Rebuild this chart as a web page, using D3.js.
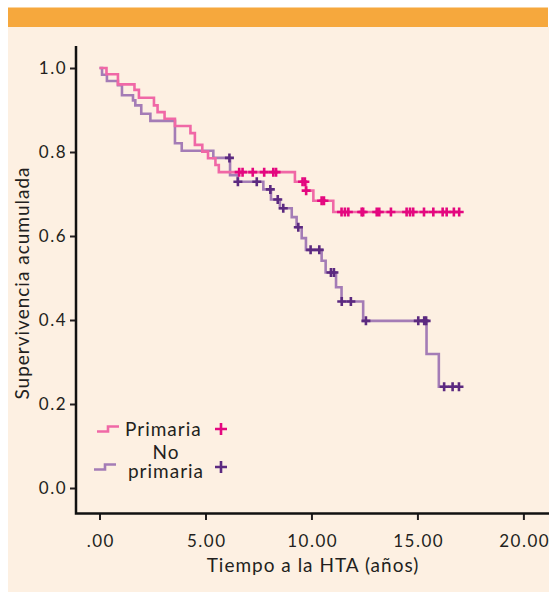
<!DOCTYPE html>
<html>
<head>
<meta charset="utf-8">
<script src="https://cdn.jsdelivr.net/npm/d3@7"></script>
<style>
  body { margin: 0; background: #fff; }
  text { font-family: Lato, "Open Sans", sans-serif; fill: #231f20; }
</style>
</head>
<body>
<div id="visContainer"></div>
<script>
// step times (years) and cumulative survival
const primariaTimes = [0, 0.33, 0.87, 1.65, 1.86, 2.57, 2.74, 3.07, 3.56, 4.29, 4.50, 4.85, 5.12, 5.47, 5.63, 9.22, 9.74, 10.09, 11.03]
const primariaSurv  = [1.0, 0.985, 0.961, 0.948, 0.929, 0.911, 0.895, 0.879, 0.862, 0.845, 0.817, 0.801, 0.785, 0.769, 0.752, 0.729, 0.708, 0.684, 0.657]
const primariaEnd = 16.97
const primariaCensor = [6.59, 6.75, 7.23, 7.77, 8.20, 8.33, 9.58, 9.69, 9.75, 10.48, 10.59, 11.42, 11.58, 11.74, 12.37, 12.44, 13.08, 13.20, 13.75, 14.49, 14.65, 14.80, 15.31, 15.75, 16.19, 16.38, 16.72, 16.97]

const noPrimariaTimes = [0, 0.12, 0.35, 0.87, 1.06, 1.58, 1.69, 1.97, 2.40, 3.56, 3.88, 5.37, 6.16, 6.52, 7.73, 8.09, 8.51, 9.07, 9.30, 9.54, 9.74, 10.48, 10.67, 11.16, 11.42, 12.44, 15.43, 16.01]
const noPrimariaSurv  = [1.0, 0.984, 0.969, 0.959, 0.935, 0.923, 0.911, 0.891, 0.874, 0.821, 0.803, 0.786, 0.745, 0.729, 0.711, 0.687, 0.666, 0.645, 0.621, 0.595, 0.567, 0.541, 0.513, 0.478, 0.444, 0.398, 0.319, 0.241]
const noPrimariaEnd = 16.96
const noPrimariaCensor = [6.13, 6.53, 7.42, 8.06, 8.41, 8.67, 9.38, 9.96, 10.37, 10.92, 11.06, 11.43, 11.86, 12.57, 15.04, 15.32, 15.41, 16.26, 16.66, 16.96]

const xTicks = [0, 5, 10, 15, 20]
const yTicks = [0, 0.2, 0.4, 0.6, 0.8, 1.0]
const legendLabels = [["Primaria"], ["No", "primaria"]]

function survAt(times, surv, t) {
    let v = surv[0]
    for (let i = 0; i < times.length; i++) { if (times[i] <= t) v = surv[i]; }
    return v
}

function renderVisualisation() {
    const width = 549;
    const height = 597;

    const svg = d3.select('#visContainer').append("svg")
        .attr("width", width)
        .attr("height", height)
        .style("display", "block")

    // panel background + orange header
    svg.append("rect").attr("x", 8).attr("y", 27).attr("width", width - 8).attr("height", 565).attr("fill", "#fdf0e2")
    svg.append("rect").attr("x", 8).attr("y", 7.5).attr("width", width - 9).attr("height", 19.5).attr("fill", "#f6a83d")

    const x = d3.scaleLinear().domain([0, 20]).range([99.5, 523.4])
    const y = d3.scaleLinear().domain([0, 1]).range([488, 68])

    // axes
    const xAxis = svg.append("g")
        .attr("transform", "translate(0,513)")
        .call(d3.axisBottom(x).tickValues(xTicks).tickSize(7).tickPadding(15)
            .tickFormat(d => d === 0 ? ".00" : d3.format(".2f")(d)))
    const yAxis = svg.append("g")
        .attr("transform", "translate(76,0)")
        .call(d3.axisLeft(y).tickValues(yTicks).tickSize(6).tickPadding(3).tickFormat(d3.format(".1f")))
    ;[xAxis, yAxis].forEach(g => {
        g.select(".domain").remove()
        g.selectAll(".tick line").attr("stroke", "#231f20").attr("stroke-width", 2)
        g.selectAll(".tick text").style("font-size", "17px").style("letter-spacing", "1.5px").attr("fill", "#231f20")
    })
    xAxis.selectAll(".tick text").attr("dx", "0.75px")
    svg.append("path").attr("d", "M76,46V513.5H549").attr("fill", "none").attr("stroke", "#111").attr("stroke-width", 2.5)

    svg.append("text")
        .attr("x", 313).attr("y", 572)
        .attr("text-anchor", "middle")
        .style("font-size", "19px")
        .style("letter-spacing", "1px")
        .text("Tiempo a la HTA (años)")
    svg.append("text")
        .attr("transform", "translate(29,283) rotate(-90)")
        .attr("text-anchor", "middle")
        .style("font-size", "19px")
        .style("letter-spacing", "1px")
        .text("Supervivencia acumulada")

    const groups = [
        { times: primariaTimes, surv: primariaSurv, end: primariaEnd, censor: primariaCensor, line: "#f068a6", mark: "#e4077f" },
        { times: noPrimariaTimes, surv: noPrimariaSurv, end: noPrimariaEnd, censor: noPrimariaCensor, line: "#a47cb6", mark: "#5c2a80" }
    ]

    const line = d3.line().x(d => x(d[0])).y(d => y(d[1])).curve(d3.curveStepAfter)
    const plus = "M-4.5,0H4.5M0,-4.5V4.5"

    // purple first so pink sits on top
    groups.slice().reverse().forEach(g => {
        const pts = g.times.map((t, i) => [t, g.surv[i]])
        pts.push([g.end, g.surv[g.surv.length - 1]])
        svg.append("path")
            .datum(pts)
            .attr("d", line)
            .attr("fill", "none")
            .attr("stroke", g.line)
            .attr("stroke-width", 2.6)
    })
    groups.slice().reverse().forEach(g => {
        svg.append("g")
            .selectAll("path")
            .data(g.censor)
            .join("path")
            .attr("transform", t => `translate(${x(t)},${y(survAt(g.times, g.surv, t))})`)
            .attr("d", plus)
            .attr("stroke", g.mark)
            .attr("stroke-width", 2.6)
    })

    // legend
    const legend = svg.append("g")
    const legendY = [429, 467]
    const legendX = [97, 94]
    groups.forEach((g, i) => {
        const ly = legendY[i], lx = legendX[i]
        legend.append("path")
            .attr("d", `M${lx},${ly + 2.5}H${lx + 11}V${ly - 2.5}H${lx + 22}`)
            .attr("fill", "none").attr("stroke", g.line).attr("stroke-width", 2.6)
        legend.append("path")
            .attr("transform", `translate(221,${ly})`)
            .attr("d", "M-6,0H6M0,-6V6")
            .attr("stroke", g.mark).attr("stroke-width", 2.6)
        const lines = legendLabels[i]
        const multi = lines.length > 1
        legend.append("text")
            .attr("text-anchor", multi ? "middle" : "start")
            .style("font-size", "19px")
            .style("letter-spacing", "1px")
            .selectAll("tspan")
            .data(lines)
            .join("tspan")
            .attr("x", multi ? 166 : 125)
            .attr("y", (d, j) => multi ? ly - 8 + j * 19 : ly + 7)
            .text(d => d)
    })
}

document.addEventListener("DOMContentLoaded", function(event) {
    renderVisualisation()
});
</script>
</body>
</html>
